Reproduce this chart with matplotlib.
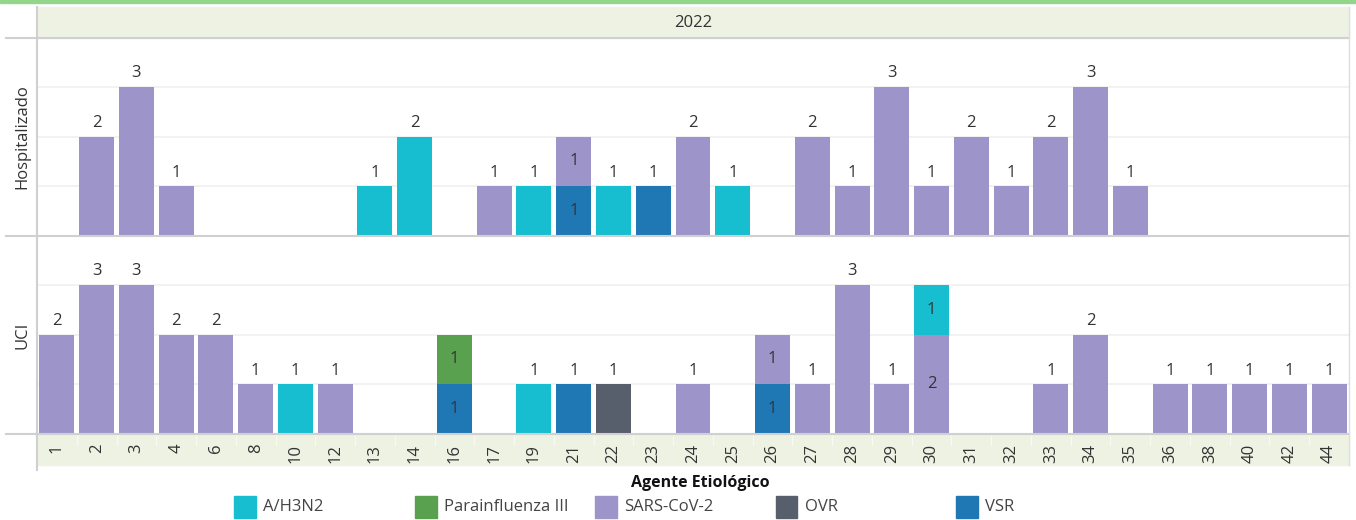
import matplotlib
matplotlib.use("Agg")
import matplotlib.pyplot as plt
from matplotlib.patches import Rectangle
from matplotlib.lines import Line2D
import numpy as np

# semanas epidemiologicas (eje x)
weeks = ["1", "2", "3", "4", "6", "8", "10", "12", "13", "14", "16", "17", "19", "21",
         "22", "23", "24", "25", "26", "27", "28", "29", "30", "31", "32", "33", "34",
         "35", "36", "38", "40", "42", "44"]

# Hospitalizado, casos por agente
hosp_vsr  = [0, 0, 0, 0, 0, 0, 0, 0, 0, 0, 0, 0, 0, 1, 0, 1, 0, 0, 0, 0, 0, 0, 0, 0, 0, 0, 0, 0, 0, 0, 0, 0, 0]
hosp_ovr  = [0] * 33
hosp_sars = [0, 2, 3, 1, 0, 0, 0, 0, 0, 0, 0, 1, 0, 1, 0, 0, 2, 0, 0, 2, 1, 3, 1, 2, 1, 2, 3, 1, 0, 0, 0, 0, 0]
hosp_para = [0] * 33
hosp_h3n2 = [0, 0, 0, 0, 0, 0, 0, 0, 1, 2, 0, 0, 1, 0, 1, 0, 0, 1, 0, 0, 0, 0, 0, 0, 0, 0, 0, 0, 0, 0, 0, 0, 0]

# UCI, casos por agente
uci_vsr  = [0, 0, 0, 0, 0, 0, 0, 0, 0, 0, 1, 0, 0, 1, 0, 0, 0, 0, 1, 0, 0, 0, 0, 0, 0, 0, 0, 0, 0, 0, 0, 0, 0]
uci_ovr  = [0, 0, 0, 0, 0, 0, 0, 0, 0, 0, 0, 0, 0, 0, 1, 0, 0, 0, 0, 0, 0, 0, 0, 0, 0, 0, 0, 0, 0, 0, 0, 0, 0]
uci_sars = [2, 3, 3, 2, 2, 1, 0, 1, 0, 0, 0, 0, 0, 0, 0, 0, 1, 0, 1, 1, 3, 1, 2, 0, 0, 1, 2, 0, 1, 1, 1, 1, 1]
uci_para = [0, 0, 0, 0, 0, 0, 0, 0, 0, 0, 1, 0, 0, 0, 0, 0, 0, 0, 0, 0, 0, 0, 0, 0, 0, 0, 0, 0, 0, 0, 0, 0, 0]
uci_h3n2 = [0, 0, 0, 0, 0, 0, 1, 0, 0, 0, 0, 0, 1, 0, 0, 0, 0, 0, 0, 0, 0, 0, 1, 0, 0, 0, 0, 0, 0, 0, 0, 0, 0]

agents = ["A/H3N2", "Parainfluenza III", "SARS-CoV-2", "OVR", "VSR"]
colors = {"A/H3N2": "#17becf", "Parainfluenza III": "#59a14f", "SARS-CoV-2": "#9d94c9",
          "OVR": "#575e6c", "VSR": "#1f77b4"}
stack_order = ["VSR", "OVR", "SARS-CoV-2", "Parainfluenza III", "A/H3N2"]   # bottom -> top

INK, BAND, LINE, GRID = "#333333", "#eef2e3", "#d0d0d0", "#f0f0f0"
FS = 12
plt.rcParams.update({"font.family": ["Open Sans", "DejaVu Sans"], "font.size": FS})

W, H = 1356, 520
fig = plt.figure(figsize=(W / 100, H / 100), dpi=100)


def fx(px):
    return px / W


def fy(py):
    return 1 - py / H


L, R = 37, 1349
ax_h = fig.add_axes([fx(L), fy(236), fx(R - L), fy(38) - fy(236)])
ax_u = fig.add_axes([fx(L), fy(434), fx(R - L), fy(236) - fy(434)])
for ax in (ax_h, ax_u):
    ax.set_zorder(2)
    ax.patch.set_alpha(0)

x = np.arange(len(weeks))


def draw_row(ax, series):
    bottom = np.zeros(len(weeks))
    total = np.sum([series[a] for a in stack_order], axis=0)
    nseg = np.sum([np.array(series[a]) > 0 for a in stack_order], axis=0)
    for a in stack_order:
        v = np.array(series[a], dtype=float)
        ax.bar(x, v, 0.88, bottom=bottom, color=colors[a], zorder=3)
        for i in np.nonzero(v)[0]:
            if nseg[i] > 1:
                ax.text(x[i], bottom[i] + v[i] / 2, f"{v[i]:.0f}", ha="center", va="center",
                        color=INK, fontsize=FS, zorder=4)
        bottom += v
    for i in np.nonzero(nseg == 1)[0]:
        ax.annotate(f"{total[i]:.0f}", (x[i], total[i]), textcoords="offset points",
                    xytext=(0, 4), ha="center", va="bottom", color=INK, fontsize=FS)
    ax.set_xlim(-0.5, len(weeks) - 0.5)
    ax.set_ylim(0, 3.98)
    ax.set_yticks([1, 2, 3])
    ax.yaxis.grid(True, color=GRID, lw=1.2, zorder=0)
    ax.tick_params(left=False, labelleft=False, bottom=False)
    for s in ["top", "left", "right", "bottom"]:
        ax.spines[s].set_visible(False)


draw_row(ax_h, {"VSR": hosp_vsr, "OVR": hosp_ovr, "SARS-CoV-2": hosp_sars,
                "Parainfluenza III": hosp_para, "A/H3N2": hosp_h3n2})
draw_row(ax_u, {"VSR": uci_vsr, "OVR": uci_ovr, "SARS-CoV-2": uci_sars,
                "Parainfluenza III": uci_para, "A/H3N2": uci_h3n2})
ax_h.tick_params(labelbottom=False)
ax_u.set_xticks(x)
ax_u.set_xticklabels(weeks, rotation=90, fontsize=FS, color=INK)
ax_u.tick_params(axis="x", length=0, pad=7)

# frame: top green rule, header band, x band, separators
fig.patches.append(Rectangle((0, fy(3)), 1, fy(0) - fy(3), transform=fig.transFigure,
                             color="#93d58a", zorder=-1))
fig.patches.append(Rectangle((fx(L), fy(38)), fx(R - L), fy(7) - fy(38), transform=fig.transFigure,
                             color=BAND, zorder=-1))
fig.patches.append(Rectangle((fx(L), fy(465)), fx(R - L), fy(434) - fy(465), transform=fig.transFigure,
                             color=BAND, zorder=-1))
for py in (38, 236, 434):
    fig.add_artist(Line2D([fx(6), fx(R)], [fy(py), fy(py)], color=LINE, lw=1.5, zorder=5))
fig.add_artist(Line2D([fx(L), fx(L)], [fy(7), fy(470)], color=LINE, lw=1.5, zorder=5))
fig.add_artist(Line2D([fx(R), fx(R)], [fy(7), fy(465)], color="#dddddd", lw=1, zorder=5))
for i in range(1, len(weeks)):
    xs = fx(L + (R - L) * i / len(weeks))
    fig.add_artist(Line2D([xs, xs], [fy(436), fy(445)], color="#f8faf2", lw=1, zorder=0))

fig.text(fx((L + R) / 2), fy(23), "2022", ha="center", va="center", fontsize=FS, color=INK)
fig.text(fx(22), fy(137), "Hospitalizado", rotation=90, ha="center", va="center", fontsize=FS, color=INK)
fig.text(fx(22), fy(335), "UCI", rotation=90, ha="center", va="center", fontsize=FS, color=INK)

# legend
fig.text(fx(700), fy(483), "Agente Etiológico", ha="center", va="center", fontsize=11.5,
         fontweight="bold", color="#111111")
for k, a in enumerate(agents):
    x0 = 234 + 180.5 * k
    fig.patches.append(Rectangle((fx(x0), fy(518)), fx(22), fy(496) - fy(518),
                                 transform=fig.transFigure, color=colors[a]))
    fig.text(fx(x0 + 29), fy(507), a, ha="left", va="center", fontsize=FS, color="#444444")

fig.savefig("out.png", dpi=100)
